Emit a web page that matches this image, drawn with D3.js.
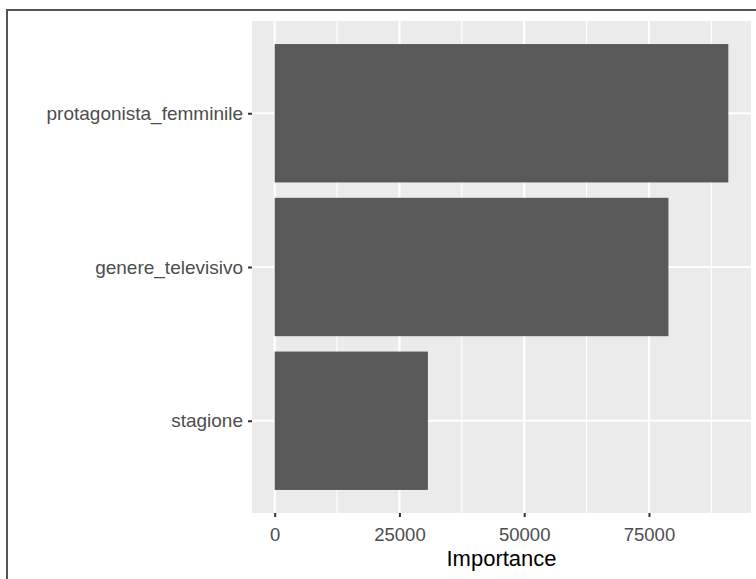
<!DOCTYPE html>
<html><head><meta charset="utf-8">
<script src="https://cdn.jsdelivr.net/npm/d3@7"></script>
<style>body{margin:0;background:#fff}svg{display:block}</style>
</head><body>
<script>
const categories = ["protagonista_femminile", "genere_televisivo", "stagione"];
const importance = [90900, 78900, 30700];
const xTicks = [0, 25000, 50000, 75000];
const xMinor = [12500, 37500, 62500, 87500];
const xTitle = "Importance";

const W = 756, H = 579;
const svg = d3.select("body").append("svg").attr("width", W).attr("height", H);
svg.append("rect").attr("width", W).attr("height", H).attr("fill", "#fff");

// outer frame (cropped)
svg.append("path").attr("d", `M7,${H} V10 H${W}`).attr("fill", "none").attr("stroke", "#555").attr("stroke-width", 2);

const P = {l: 252, r: 751, t: 21, b: 513};
const maxV = d3.max(importance);
const x = d3.scaleLinear().domain([-0.05 * maxV, 1.05 * maxV]).range([P.l, P.r]);
const y = d3.scalePoint().domain(categories).range([P.t, P.b]).padding(0.6);
const step = y.step();

svg.append("rect").attr("x", P.l).attr("y", P.t).attr("width", P.r - P.l).attr("height", P.b - P.t).attr("fill", "#EBEBEB");

const g = svg.append("g");
g.selectAll(".minor").data(xMinor).join("line")
  .attr("x1", d => x(d)).attr("x2", d => x(d)).attr("y1", P.t).attr("y2", P.b)
  .attr("stroke", "#fff").attr("stroke-width", 1.1);
g.selectAll(".major").data(xTicks).join("line")
  .attr("x1", d => x(d)).attr("x2", d => x(d)).attr("y1", P.t).attr("y2", P.b)
  .attr("stroke", "#fff").attr("stroke-width", 2.2);
g.selectAll(".hmajor").data(categories).join("line")
  .attr("x1", P.l).attr("x2", P.r).attr("y1", d => y(d)).attr("y2", d => y(d))
  .attr("stroke", "#fff").attr("stroke-width", 2.2);

const bw = step * 0.9;
g.selectAll(".bar").data(categories).join("rect")
  .attr("x", x(0)).attr("y", d => y(d) - bw / 2)
  .attr("width", (d, i) => x(importance[i]) - x(0)).attr("height", bw)
  .attr("fill", "#595959");

const font = "Liberation Sans, Arial, sans-serif";
// x axis
const xa = svg.append("g").attr("transform", `translate(0,${P.b})`)
  .call(d3.axisBottom(x).tickValues(xTicks).tickSize(4).tickPadding(11).tickFormat(d3.format("d")));
xa.select(".domain").remove();
xa.selectAll(".tick line").attr("stroke", "#333").attr("stroke-width", 2);
xa.selectAll(".tick text").attr("fill", "#4D4D4D").style("font-family", font).style("font-size", "18.5px");

// y axis
const ya = svg.append("g").attr("transform", `translate(${P.l},0)`)
  .call(d3.axisLeft(y).tickSize(4).tickPadding(5));
ya.select(".domain").remove();
ya.selectAll(".tick line").attr("stroke", "#333").attr("stroke-width", 2);
ya.selectAll(".tick text").attr("fill", "#4D4D4D").style("font-family", font).style("font-size", "19px");

svg.append("text").attr("x", (P.l + P.r) / 2).attr("y", 566)
  .attr("text-anchor", "middle").attr("fill", "#000")
  .style("font-family", font).style("font-size", "22px")
  .text(xTitle);
</script>
</body></html>
